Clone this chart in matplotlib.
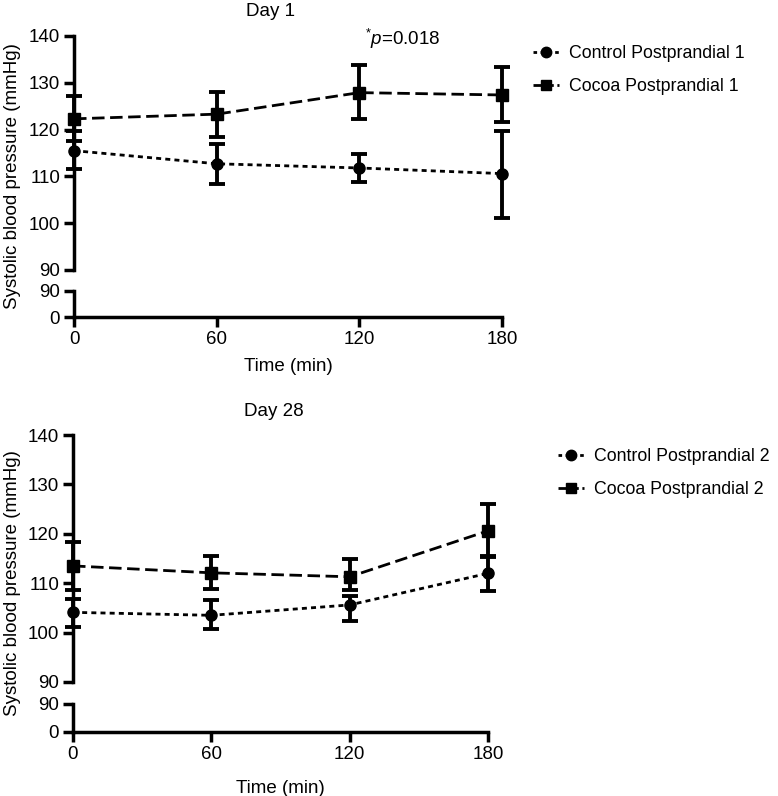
"""Systolic blood pressure, day 1 / day 28, broken y-axis (two panels)."""
import matplotlib

matplotlib.use("Agg")
import matplotlib.pyplot as plt
from matplotlib.lines import Line2D

plt.rcParams["font.family"] = ["Liberation Sans", "DejaVu Sans"]
plt.rcParams["mathtext.fontset"] = "custom"
plt.rcParams["mathtext.rm"] = "Liberation Sans"
plt.rcParams["mathtext.it"] = "Liberation Sans:italic"

TIME = [0, 60, 120, 180]

# Day 1
CTRL1 = [115.5, 112.7, 111.8, 110.6]
CTRL1_LO = [111.5, 108.4, 108.8, 101.2]
CTRL1_HI = [119.6, 117.0, 114.7, 119.8]
COCOA1 = [122.3, 123.3, 127.9, 127.4]
COCOA1_LO = [117.5, 118.5, 122.3, 121.6]
COCOA1_HI = [127.2, 128.0, 133.8, 133.4]

# Day 28
CTRL2 = [104.1, 103.5, 105.6, 112.0]
CTRL2_LO = [101.1, 100.7, 102.4, 108.4]
CTRL2_HI = [106.8, 106.6, 107.4, 115.5]
COCOA2 = [113.5, 112.1, 111.3, 120.6]
COCOA2_LO = [108.7, 108.9, 108.7, 115.3]
COCOA2_HI = [118.4, 115.5, 115.0, 126.0]

W = 778
H = 796
LW = 2.5
FS = 13.5
LEG_FS = 12.8


def fx(px):
    return px / W


def fy(py):
    return 1 - py / H


def _style_axis(ax):
    ax.spines[["top", "right"]].set_visible(False)
    for s in ax.spines.values():
        s.set_linewidth(LW)
    ax.tick_params(width=LW, length=7, labelsize=FS, direction="out", pad=3)


def panel(x0, x1, top, y90, low90, y0, title, title_x, ctrl, clo, chi, coc, olo, ohi, xpad):
    ax = plt.axes([fx(x0), fy(y90), fx(x1 - x0), fy(top) - fy(y90)])
    axl = plt.axes([fx(x0), fy(y0), fx(x1 - x0), fy(low90) - fy(y0)])

    ax.set_xlim(0, 180)
    ax.set_ylim(90, 140)
    ax.set_yticks([90, 100, 110, 120, 130, 140])
    _style_axis(ax)
    ax.spines["bottom"].set_visible(False)
    ax.set_xticks([])

    axl.set_xlim(0, 180)
    axl.set_ylim(0, 90)
    axl.set_yticks([0, 90])
    axl.set_xticks(TIME)
    _style_axis(axl)
    axl.set_xlabel("Time (min)", fontsize=FS, labelpad=xpad)

    ctrl_err = [[c - l for c, l in zip(ctrl, clo)], [h - c for c, h in zip(ctrl, chi)]]
    coc_err = [[c - l for c, l in zip(coc, olo)], [h - c for c, h in zip(coc, ohi)]]
    h1 = ax.errorbar(TIME, ctrl, yerr=ctrl_err, color="black", marker="o", markersize=8,
                     linestyle=(0, (1.8, 1.5)), linewidth=2.0, elinewidth=LW + 0.3,
                     capsize=5.5, capthick=LW + 0.3, clip_on=False, zorder=3)
    h2 = ax.errorbar(TIME, coc, yerr=coc_err, color="black", marker="s", markersize=8,
                     linestyle=(0, (4.5, 2.0)), linewidth=2.0, elinewidth=LW + 0.3,
                     capsize=5.5, capthick=LW + 0.3, clip_on=False, zorder=3)
    for obj in (h1, h2):
        for art in obj.lines[1] + obj.lines[2]:
            art.set_clip_on(False)

    plt.gcf().text(fx(title_x), fy(top - 24), title, ha="center", va="center", fontsize=FS)
    plt.gcf().text(fx(13), fy((top + y0) / 2), "Systolic blood pressure (mmHg)",
                   rotation=90, ha="center", va="center", fontsize=FS)
    return ax


def legend(labels, x, y):
    handles = [
        Line2D([], [], color="black", marker="o", markersize=7.5, linestyle=(0, (1.3, 1.3)), linewidth=2.0),
        Line2D([], [], color="black", marker="s", markersize=7.5, linestyle=(0, (3.0, 1.3)), linewidth=2.0),
    ]
    fig.legend(handles, labels, loc="upper left", bbox_to_anchor=(fx(x), fy(y)), frameon=False,
               fontsize=LEG_FS, handlelength=1.45, handletextpad=0.6, labelspacing=0.9,
               borderaxespad=0, borderpad=0)


fig = plt.figure(figsize=(W / 100, H / 100), dpi=100)
fig.patch.set_facecolor("white")

ax1 = panel(74, 502, 36, 270, 291, 317, "Day 1", 270,
            CTRL1, CTRL1_LO, CTRL1_HI, COCOA1, COCOA1_LO, COCOA1_HI, 7)
fig.text(fx(403), fy(39), r"$^{*}\mathit{p}$=0.018", ha="center", va="center", fontsize=FS)
legend(["Control Postprandial 1", "Cocoa Postprandial 1"], 533, 45)

ax2 = panel(73, 488, 435, 682, 704, 732, "Day 28", 274,
            CTRL2, CTRL2_LO, CTRL2_HI, COCOA2, COCOA2_LO, COCOA2_HI, 12)
legend(["Control Postprandial 2", "Cocoa Postprandial 2"], 558, 448)

fig.savefig("out.png", dpi=100, facecolor="white")
